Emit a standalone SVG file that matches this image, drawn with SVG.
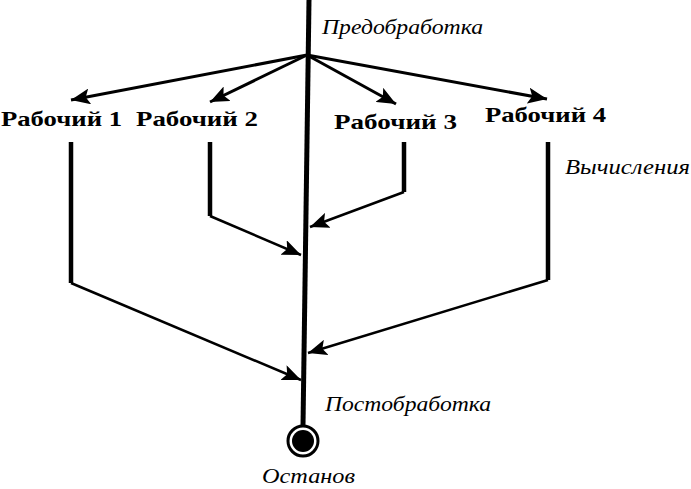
<svg xmlns="http://www.w3.org/2000/svg" width="691" height="489" viewBox="0 0 691 489">
<defs>
<style>
.lbl{font-family:"Liberation Serif","DejaVu Serif",serif;font-weight:bold;font-size:22px;fill:#000}
.it{font-family:"Liberation Serif","DejaVu Serif",serif;font-style:italic;font-size:20px;fill:#000}
.fan{stroke:#000;stroke-width:3;fill:none}
.bar{stroke:#000;stroke-width:4.5;fill:none}
.diag{stroke:#000;stroke-width:2.5;fill:none}
</style>
<marker id="ah" markerUnits="userSpaceOnUse" markerWidth="20" markerHeight="16" viewBox="0 0 20 16" refX="19" refY="8" orient="auto">
<path d="M0,0 L19,8 L0,16 L4,8 Z" fill="#000"/>
</marker>
</defs>
<g id="main-line">
<line x1="309" y1="0" x2="303" y2="426" stroke="#000" stroke-width="5"/>
</g>
<g id="stop">
<circle cx="303" cy="441" r="15" fill="#fff" stroke="#000" stroke-width="3"/>
<circle cx="303" cy="441" r="11" fill="#000"/>
</g>
<g id="connectors">
<line class="fan" x1="307" y1="55" x2="71" y2="100" marker-end="url(#ah)"/>
<line class="fan" x1="307" y1="55" x2="210" y2="102" marker-end="url(#ah)"/>
<line class="fan" x1="307" y1="55" x2="396" y2="104" marker-end="url(#ah)"/>
<line class="fan" x1="307" y1="55" x2="547" y2="99" marker-end="url(#ah)"/>
<polyline class="bar" points="71,142 71,283"/>
<polyline class="bar" points="210,142 210,216"/>
<polyline class="bar" points="404,142 404,192"/>
<polyline class="bar" points="548,142 548,280"/>
<line class="diag" x1="71" y1="283" x2="301" y2="380" marker-end="url(#ah)"/>
<line class="diag" x1="210" y1="216" x2="301" y2="255" marker-end="url(#ah)"/>
<line class="diag" x1="404" y1="192" x2="310" y2="227" marker-end="url(#ah)"/>
<line class="diag" x1="548" y1="280" x2="308" y2="353" marker-end="url(#ah)"/>
</g>
<g id="worker1"><text class="lbl" x="1" y="126" textLength="121" lengthAdjust="spacingAndGlyphs">Рабочий 1</text></g>
<g id="worker2"><text class="lbl" x="136" y="126" textLength="122" lengthAdjust="spacingAndGlyphs">Рабочий 2</text></g>
<g id="worker3"><text class="lbl" x="334" y="129" textLength="123" lengthAdjust="spacingAndGlyphs">Рабочий 3</text></g>
<g id="worker4"><text class="lbl" x="485" y="122" textLength="121" lengthAdjust="spacingAndGlyphs">Рабочий 4</text></g>
<g id="labels">
<text class="it" x="322" y="34" textLength="161" lengthAdjust="spacingAndGlyphs">Предобработка</text>
<text class="it" x="565" y="174" textLength="125" lengthAdjust="spacingAndGlyphs">Вычисления</text>
<text class="it" x="325" y="411" textLength="166" lengthAdjust="spacingAndGlyphs">Постобработка</text>
<text class="it" x="262" y="483" textLength="93" lengthAdjust="spacingAndGlyphs">Останов</text>
</g>
</svg>
